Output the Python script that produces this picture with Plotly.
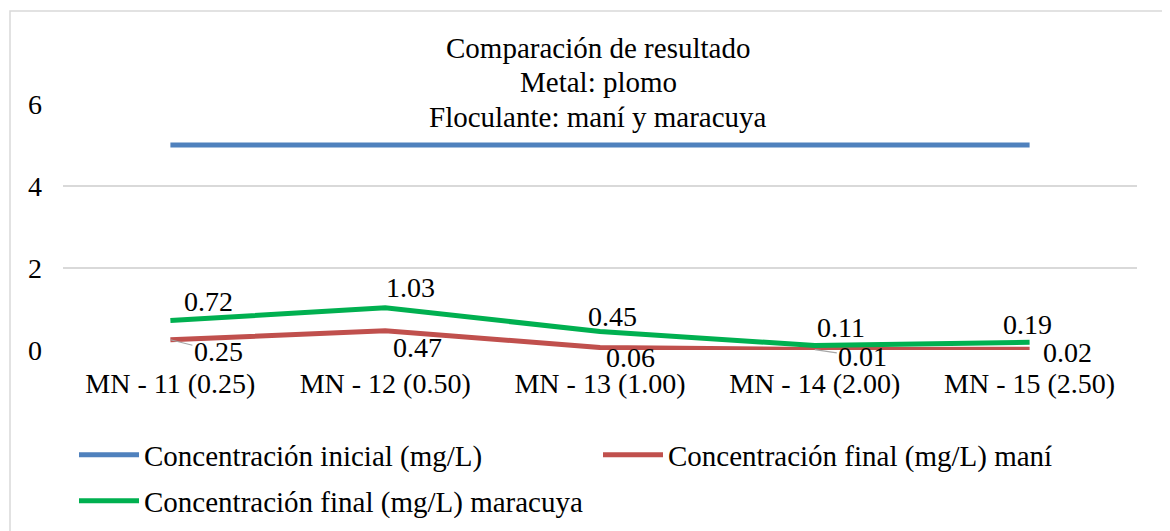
import plotly.graph_objects as go

categories = ["MN - 11 (0.25)", "MN - 12 (0.50)", "MN - 13 (1.00)", "MN - 14 (2.00)", "MN - 15 (2.50)"]
inicial = [5, 5, 5, 5, 5]
mani = [0.25, 0.47, 0.06, 0.01, 0.02]
maracuya = [0.72, 1.03, 0.45, 0.11, 0.19]
y_ticks = [0, 2, 4, 6]
title_lines = ["Comparación de resultado", "Metal: plomo", "Floculante: maní y maracuya"]

OFF = 8  # page body margin offset
W, H = 1170 - OFF, 531 - OFF
ML, MR, MT, MB = 63 - OFF, 33, 104 - OFF, 181
PW = W - ML - MR
PH = H - MT - MB
FONT = "Liberation Serif"
FS = 28
FS_BIG = 29


def px_x(px):  # screen px -> paper
    return (px - OFF - ML) / PW


def px_y(py):
    return (H - MB - (py - OFF)) / PH


def cx(px):  # screen px -> container
    return (px - OFF) / W


def cy(py):
    return (H - (py - OFF)) / H


fig = go.Figure()
fig.add_trace(go.Scatter(x=categories, y=inicial, mode="lines", name="Concentración inicial (mg/L)",
                         line=dict(color="#4F81BD", width=5), legend="legend"))
fig.add_trace(go.Scatter(x=categories, y=mani, mode="lines", name="Concentración final (mg/L) maní",
                         line=dict(color="#C0504D", width=5), legend="legend"))
fig.add_trace(go.Scatter(x=categories, y=maracuya, mode="lines", name="Concentración final (mg/L) maracuya",
                         line=dict(color="#00B050", width=5), legend="legend2"))

# data labels (pixel offsets mimic the manual Excel placement)
green_shift = [(38, 19), (25, 20), (12, 15), (26, 18), (-2, 18)]
red_shift = [(48, -12), (32, -17), (30, -10), (48, -7), (38, -3)]
red_leader = [True, False, False, True, False]
annotations = []
for c, v, (dx, dy) in zip(categories, maracuya, green_shift):
    annotations.append(dict(x=c, y=v, text=f"{v:.2f}", showarrow=False, xshift=dx, yshift=dy,
                            font=dict(family=FONT, size=FS, color="#000")))
for c, v, (dx, dy), lead in zip(categories, mani, red_shift, red_leader):
    if lead:
        annotations.append(dict(x=c, y=v, text=f"{v:.2f}", showarrow=True, ax=dx, ay=-dy,
                                arrowhead=0, arrowwidth=1.2, arrowcolor="#A6A6A6", standoff=0,
                                font=dict(family=FONT, size=FS, color="#000")))
    else:
        annotations.append(dict(x=c, y=v, text=f"{v:.2f}", showarrow=False, xshift=dx, yshift=dy,
                                font=dict(family=FONT, size=FS, color="#000")))

for line, ypx in zip(title_lines, [48, 82, 117]):
    annotations.append(dict(xref="paper", yref="paper", x=px_x(598), y=px_y(ypx), xanchor="center",
                            yanchor="middle", text=line, showarrow=False,
                            font=dict(family=FONT, size=FS_BIG, color="#000")))

legend_common = dict(orientation="h", xref="container", yref="container", xanchor="left", yanchor="middle",
                     entrywidth=449, entrywidthmode="pixels", itemwidth=60,
                     font=dict(family=FONT, size=FS_BIG, color="#000"), bgcolor="rgba(0,0,0,0)")

fig.update_layout(
    width=W, height=H,
    margin=dict(l=ML, r=MR, t=MT, b=MB, autoexpand=False),
    paper_bgcolor="white", plot_bgcolor="white",
    font=dict(family=FONT, size=FS, color="#000"),
    showlegend=True,
    legend=dict(x=cx(74), y=cy(455), **legend_common),
    legend2=dict(x=cx(74), y=cy(501), **legend_common),
    xaxis=dict(type="category", range=[-0.5, 4.5], showgrid=False, zeroline=False,
               showline=False, ticks="", tickfont=dict(family=FONT, size=FS), ticklabelstandoff=14),
    yaxis=dict(range=[0, 6], tickvals=y_ticks, showgrid=True, gridcolor="#D9D9D9", gridwidth=1.5,
               zeroline=False, showline=False, ticks="", tickfont=dict(family=FONT, size=FS),
               ticklabelstandoff=20),
    annotations=annotations,
    shapes=[dict(type="rect", xref="paper", yref="paper", x0=px_x(10), x1=px_x(1190), y0=px_y(560), y1=px_y(11),
                 line=dict(color="#D9D9D9", width=1.5), fillcolor="rgba(0,0,0,0)", layer="below")],
)

fig.write_html("out.html")
